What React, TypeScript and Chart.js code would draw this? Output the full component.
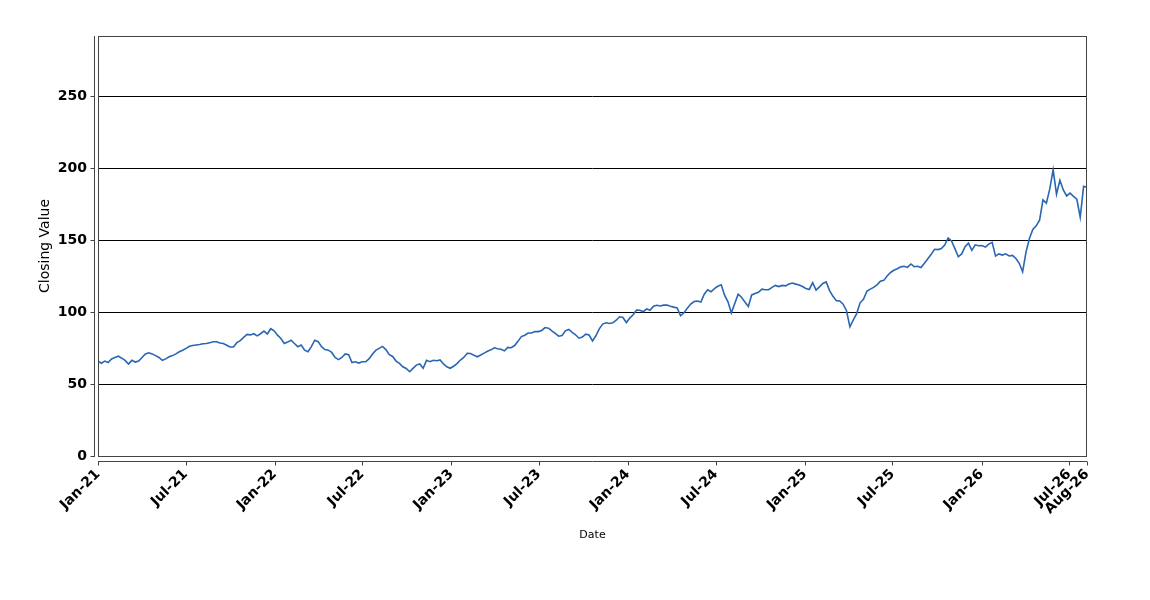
import { useEffect, useRef } from 'react';
import { Chart, registerables } from 'chart.js';

Chart.register(...registerables);

// Weekly closing values, first point on startDate, one point every stepDays
const startDate = '2021-01-01';
const stepDays = 7;
const closingValues: number[] = [
  66, 64.5, 66, 65, 67.5, 68.5, 69.4, 68, 66.5, 63.9,
  66.5, 65.3, 66, 68.5, 71, 71.8, 71, 69.8, 68.5, 66.5,
  67.5, 69, 69.8, 71, 72.5, 73.5, 74.8, 76.3, 76.8, 77.2,
  77.5, 78, 78.2, 78.8, 79.4, 79.4, 78.5, 78.2, 77, 75.8,
  75.8, 78.8, 80.2, 82.5, 84.5, 84.2, 85, 83.5, 85, 86.8,
  84.8, 88.5, 87, 84, 81.7, 78.2, 79.2, 80.5, 78.2, 76,
  77.1, 73.6, 72.5, 76, 80.5, 79.5, 76, 74, 73.6, 72,
  68.5, 67, 68.5, 71, 70.5, 65, 65.5, 64.6, 65.5, 65.5,
  67.5, 70.8, 73.4, 74.8, 76.2, 74, 70.5, 69.2, 66, 64.4,
  62, 60.9, 58.6, 60.9, 63.2, 64, 61, 66.5, 65.6, 66.6,
  66.2, 66.8, 64, 62, 61, 62.4, 64.2, 66.7, 68.5, 71.4,
  71.3, 70, 69, 70.2, 71.5, 72.8, 73.8, 75.2, 74.6,
  74.2, 73.1, 75.5, 75.3, 76.8, 79.7, 83, 84, 85.5, 85.5,
  86.5, 86.5, 87.3, 89.3, 88.9, 87, 85.2, 83.3, 83.8, 87,
  88, 86, 84.3, 81.9, 82.7, 84.7, 84.1, 80, 83.6, 88.4,
  91.7, 92.6, 92.1, 92.6, 94.4, 96.8, 96.3, 92.8, 95.9, 98.2,
  101.4, 101.3, 100.3, 102.2, 101.3, 104.2, 104.8, 104.3, 104.9, 104.9,
  104.1, 103.5, 103, 97.5, 99.6, 102.8, 105.6, 107.4, 107.7,
  107, 112.5, 115.5, 114.2, 116.4, 118, 119, 111.8, 107.2, 99.5,
  106, 112.5, 110.4, 107, 104, 112, 113, 113.8, 116, 115.6,
  115.6, 117.2, 118.6, 117.8, 118.6, 118.3, 119.6, 120.3, 119.5, 118.9,
  117.8, 116.5, 115.8, 120.5, 115.3, 117.6, 119.9, 121, 115, 111,
  108, 107.8, 105.5, 101, 89.8, 94.6, 99, 106.5, 109, 114.5,
  116, 117.2, 119, 121.5, 122.1, 125.2, 127.6, 129.1, 130.2,
  131.5, 131.9, 131.1, 133.5, 131.6, 131.9, 131, 134, 137.2, 140.2,
  143.7, 143.5, 144.2, 146.7, 151.6, 149.5, 144.2, 138.5, 140.5, 145.5,
  148, 143, 146.8, 146.2, 146.3, 145.2, 147.3, 148.5, 139, 140.5,
  139.7, 140.6, 139.1, 139.5, 137.3, 134, 128, 141.9, 151.2, 157.5,
  160, 164, 178, 175.8, 185.5, 199, 182, 191.7, 185, 180.8,
  182.8, 180.5, 178.5, 166, 187.5, 186.8,
];

const endDate = '2026-08-07';
const tickDates = [
  '2021-01-01', '2021-07-01', '2022-01-01', '2022-07-01', '2023-01-01', '2023-07-01',
  '2024-01-01', '2024-07-01', '2025-01-01', '2025-07-01', '2026-01-01', '2026-07-01', '2026-08-07',
];
const tickLabels = [
  'Jan-21', 'Jul-21', 'Jan-22', 'Jul-22', 'Jan-23', 'Jul-23',
  'Jan-24', 'Jul-24', 'Jan-25', 'Jul-25', 'Jan-26', 'Jul-26', 'Aug-26',
];
const yTicks = [0, 50, 100, 150, 200, 250];
const yMin = 0;
const yMax = 292;

const DAY = 86400000;
const origin = Date.parse(startDate + 'T00:00:00Z');
const dayOf = (s: string) => (Date.parse(s + 'T00:00:00Z') - origin) / DAY;

const FONT = "'DejaVu Sans', sans-serif";

const offsetAxesPlugin = {
  id: 'offsetAxes',
  afterDraw(chart: any) {
    const { ctx, chartArea } = chart;
    const { left, right, top, bottom } = chartArea;
    const xs = chart.scales.x;
    const ys = chart.scales.y;
    ctx.save();
    ctx.strokeStyle = '#444';
    ctx.lineWidth = 1;
    // plot box
    ctx.strokeRect(left + 0.5, top + 0.5, right - left - 1, bottom - top);
    // y axis line (offset to the left)
    const ax = left - 3.5;
    ctx.beginPath();
    ctx.moveTo(ax, top);
    ctx.lineTo(ax, bottom + 1);
    ys.ticks.forEach((t: any) => {
      const py = Math.round(ys.getPixelForValue(t.value)) + 0.5;
      ctx.moveTo(ax - 4, py);
      ctx.lineTo(ax, py);
    });
    ctx.stroke();
    // x axis line (offset below)
    const ay = bottom + 5.5;
    ctx.beginPath();
    ctx.moveTo(left, ay);
    ctx.lineTo(right, ay);
    xs.ticks.forEach((t: any) => {
      const px = Math.round(xs.getPixelForValue(t.value)) + 0.5;
      ctx.moveTo(px, ay);
      ctx.lineTo(px, ay + 4);
    });
    ctx.stroke();
    ctx.restore();
  },
};

export default function App() {
  const ref = useRef<HTMLCanvasElement>(null);
  useEffect(() => {
    if (!ref.current) return;
    const points = closingValues.map((v, i) => ({ x: i * stepDays, y: v }));
    const chart = new Chart(ref.current, {
      type: 'line',
      data: {
        datasets: [
          {
            label: 'Closing Value',
            data: points,
            borderColor: '#2966b3',
            borderWidth: 1.6,
            pointRadius: 0,
            tension: 0,
            fill: false,
          },
        ],
      },
      options: {
        animation: false,
        responsive: false,
        events: [],
        layout: { padding: { left: 0, top: 36, right: 63, bottom: 0 } },
        plugins: { legend: { display: false }, tooltip: { enabled: false } },
        scales: {
          x: {
            type: 'linear',
            min: 0,
            max: dayOf(endDate),
            afterBuildTicks: (s: any) => {
              s.ticks = tickDates.map((d) => ({ value: dayOf(d) }));
            },
            afterFit: (s: any) => {
              s.height = 144;
            },
            grid: { display: false, drawTicks: false },
            border: { display: false },
            ticks: {
              autoSkip: false,
              maxRotation: 45,
              minRotation: 45,
              padding: 10,
              color: '#000',
              font: { family: FONT, size: 14, weight: 'bold' },
              callback: (_v: any, i: number) => tickLabels[i],
            },
            title: {
              display: true,
              text: 'Date',
              color: '#000',
              font: { family: FONT, size: 11 },
              padding: { top: 0, bottom: 58 },
            },
          },
          y: {
            type: 'linear',
            min: yMin,
            max: yMax,
            afterBuildTicks: (s: any) => {
              s.ticks = yTicks.map((v) => ({ value: v }));
            },
            afterFit: (s: any) => {
              s.width = 98;
            },
            grid: { color: '#000', lineWidth: 1, drawTicks: false },
            border: { display: false },
            ticks: {
              padding: 11,
              color: '#000',
              font: { family: FONT, size: 14, weight: 'bold' },
              callback: (v: any) => String(v),
            },
            title: {
              display: true,
              text: 'Closing Value',
              color: '#000',
              font: { family: FONT, size: 14 },
              padding: { top: 37, bottom: 0 },
            },
          },
        },
      },
      plugins: [offsetAxesPlugin],
    });
    return () => chart.destroy();
  }, []);
  return (
    <div style={{ position: 'absolute', left: 0, top: 0, width: 1150, height: 600, background: '#fff' }}>
      <canvas ref={ref} width={1150} height={600} style={{ display: 'block' }} />
    </div>
  );
}
